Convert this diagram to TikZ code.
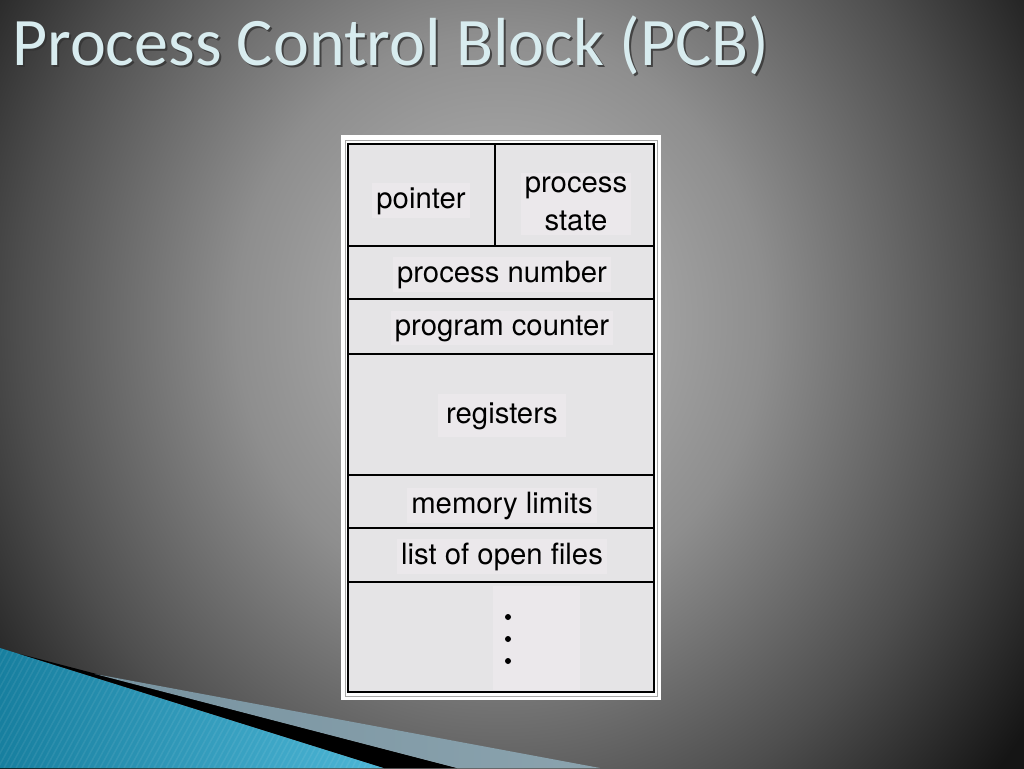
\documentclass[tikz,border=0pt]{standalone}
\usepackage{fontspec}
\setmainfont{TeX Gyre Heros}
\newfontfamily\titlefont{Carlito}
\definecolor{bgA}{HTML}{ABABAB}
\definecolor{bgB}{HTML}{8E8E8E}
\definecolor{bgC}{HTML}{4E4E4E}
\definecolor{bgD}{HTML}{151515}
\definecolor{blueL}{HTML}{177F9F}
\definecolor{blueR}{HTML}{4DB6D6}
\definecolor{slateL}{HTML}{7893A0}
\definecolor{slateR}{HTML}{8BA3AE}
\definecolor{cellgray}{HTML}{E5E4E6}
\definecolor{boxpink}{HTML}{EBE8EB}
\definecolor{titlecol}{HTML}{D8ECEF}
\pgfdeclareradialshading{bgrad}{\pgfpoint{0bp}{0bp}}{color(0bp)=(bgA); color(4bp)=(bgA); color(11bp)=(bgB); color(20bp)=(bgC); color(27bp)=(bgD); color(50bp)=(bgD)}
\tikzset{
  lbl/.style={font=\fontsize{29.3}{38}\selectfont, text=black, fill=boxpink, inner sep=4pt, align=center},
  dotmark/.style={circle, fill=black, inner sep=0pt, minimum size=6pt},
  rule/.style={draw=black, line width=2.5pt},
  titletext/.style={font=\titlefont\fontsize{68}{78}\selectfont, anchor=base west, inner sep=0pt}
}
\begin{document}
\begin{tikzpicture}[x=1pt,y=-1pt]
\useasboundingbox (0,0) rectangle (1024,768);
\begin{scope}
  \clip (0,0) rectangle (1024,768);
  \path[shading=bgrad] (-100,-330) rectangle (1100,970);
  % blue swoosh
  \path[left color=blueL, right color=blueR] (0,648) -- (384,768) -- (0,768) -- cycle;
  \begin{scope}
    \clip (0,648) -- (384,768) -- (0,768) -- cycle;
    \foreach \i in {-200,-194,...,400} {
      \draw[white, opacity=0.07, line width=1.5pt] (\i,768) -- (\i+70,640);
    }
  \end{scope}
  \fill[black] (20,654) -- (457,768) -- (384,768) -- cycle;
  \path[left color=slateL, right color=slateR] (95,674) -- (600,768) -- (457,768) -- cycle;
\end{scope}
% title
\node[titletext, text=black!80, opacity=0.8] (titleshadow) at (14,67) {Process Control Block (PCB)};
\node[titletext, text=titlecol] (title) at (12,65) {Process Control Block (PCB)};
% PCB frame
\fill[white] (341,135) rectangle (661,700);
\draw[gray!70, line width=1pt] (345,140) rectangle (657.5,696);
\filldraw[fill=cellgray, rule] (348,144) rectangle (654,692);
% text boxes
\node[lbl, anchor=base] (pointer) at (421,208) {pointer};
\node[lbl] (state) at (576,204) {process\\state};
\node[lbl, anchor=base] (pnum) at (502,282) {process number};
\node[lbl, anchor=base] (pc) at (502,335) {program counter};
\node[lbl, anchor=base, inner sep=8pt] (regs) at (502,423) {registers};
\node[lbl, anchor=base] (mem) at (502,513) {memory limits};
\node[lbl, anchor=base] (files) at (502,564) {list of open files};
\fill[boxpink] (493,586) rectangle (580,690);
\node[dotmark] (d1) at (508,617) {};
\node[dotmark] (d2) at (508,639) {};
\node[dotmark] (d3) at (508,661) {};
% rules
\draw[rule] (495,144) -- (495,246);
\draw[rule] (348,246) -- (654,246);
\draw[rule] (348,299) -- (654,299);
\draw[rule] (348,354) -- (654,354);
\draw[rule] (348,475) -- (654,475);
\draw[rule] (348,528) -- (654,528);
\draw[rule] (348,582) -- (654,582);
\draw[rule] (348,144) rectangle (654,692);
\end{tikzpicture}
\end{document}
